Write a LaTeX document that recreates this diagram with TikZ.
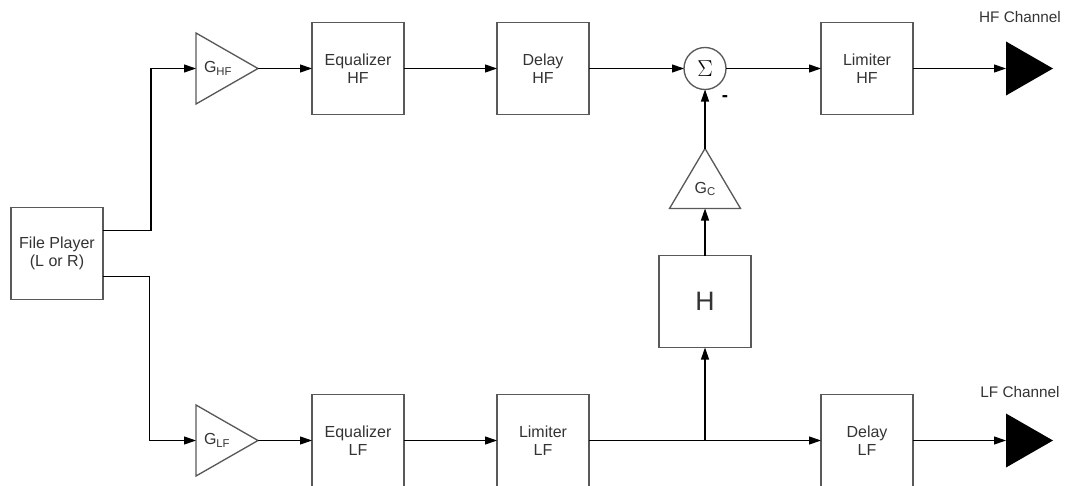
\documentclass[tikz,border=0pt]{standalone}
\usepackage{fontspec}
\setmainfont{Liberation Sans}
\usetikzlibrary{arrows.meta,positioning}
\newcommand{\gsub}[1]{\raisebox{-0.3ex}{\fontsize{8.5}{8.5}\selectfont #1}}

\begin{document}
\begin{tikzpicture}[x = 0.75pt, y = -0.75pt,
		block/.style = {rectangle, draw = black!65, line width = 1pt, outer sep = 0pt, minimum width = 69pt, minimum height = 69pt, align = center, text = black!80, font = \fontsize{12}{13.5}\selectfont},
		gain/.style = {rectangle, outer sep = 0pt, inner xsep = 6pt, inner ysep = 0pt, text width = 34.5pt, minimum height = 53.25pt, align = left, text = black!80, font = \fontsize{12}{13.5}\selectfont},
		gainup/.style = {rectangle, outer sep = 0pt, inner sep = 0pt, minimum width = 53.25pt, minimum height = 45pt, text = black!80, font = \fontsize{12}{13.5}\selectfont},
		sumnode/.style = {circle, draw = black!65, line width = 1pt, outer sep = 0pt, minimum size = 31.5pt, inner sep = 0pt},
		speaker/.style = {rectangle, outer sep = 0pt, inner sep = 0pt, minimum width = 35.25pt, minimum height = 40.5pt},
		triline/.style = {draw = black!65, line width = 1pt},
		signal/.style = {-{Triangle[length = 9pt, width = 6pt]}, line width = 0.8pt},
		chlabel/.style = {text = black!80, font = \fontsize{11.5}{13}\selectfont}]
		\useasboundingbox (0,0) rectangle (1066,485);
		% Source
		\node (player) at (57,253.5) [block] {File Player \\ (L or R)};
		% HF branch
		\node (ghf) at (227,68.5) [gain] {G\gsub{HF}};
		\node (eqhf) [block, right = 40.5pt of ghf] {Equalizer \\ HF};
		\node (dlhf) [block, right = 69.75pt of eqhf] {Delay \\ HF};
		\node (sum) [sumnode, right = 71.25pt of dlhf] {\fontsize{16}{16}\selectfont $\Sigma$};
		\node (lmhf) [block, right = 71.25pt of sum] {Limiter \\ HF};
		\node (outhf) [speaker, right = 69.75pt of lmhf] {};
		\node (hflabel) at (1020,17) [chlabel] {HF Channel};
		% LF branch
		\node (glf) at (227,440.5) [gain] {G\gsub{LF}};
		\node (eqlf) [block, right = 40.5pt of glf] {Equalizer \\ LF};
		\node (lmlf) [block, right = 69.75pt of eqlf] {Limiter \\ LF};
		\node (dllf) [block, right = 174pt of lmlf] {Delay \\ LF};
		\node (outlf) [speaker, right = 69.75pt of dllf] {};
		\node (lflabel) at (1020,392) [chlabel] {LF Channel};
		% Cross path
		\coordinate (tap) at (sum |- lmlf);
		\node (hbox) [block, font = \fontsize{20}{20}\selectfont, above = 69.75pt of tap] {H};
		\node (gc) [gainup, above = 35.25pt of hbox] {\raisebox{-8pt}[\height][\depth]{G\gsub{C}}};
		\node (minus) at (725,99) {\fontsize{14}{14}\selectfont\textbf{-}};
		% Triangles
		\draw [triline] (ghf.north west) -- (ghf.east) -- (ghf.south west) -- cycle;
		\draw [triline] (glf.north west) -- (glf.east) -- (glf.south west) -- cycle;
		\draw [triline] (gc.south west) -- (gc.north) -- (gc.south east) -- cycle;
		\fill (outhf.north west) -- (outhf.east) -- (outhf.south west) -- cycle;
		\fill (outlf.north west) -- (outlf.east) -- (outlf.south west) -- cycle;
		% Signal paths
		\draw [signal] ([yshift = 17pt]player.east) -- ++(36pt,0) |- (ghf.west);
		\draw [signal] ([yshift = -17.5pt]player.east) -- ++(35pt,0) |- (glf.west);
		\draw [signal] (ghf.east) -- (eqhf);
		\draw [signal] (eqhf) -- (dlhf);
		\draw [signal] (dlhf) -- (sum);
		\draw [signal] (sum) -- (lmhf);
		\draw [signal] (lmhf) -- (outhf.west);
		\draw [signal] (glf.east) -- (eqlf);
		\draw [signal] (eqlf) -- (lmlf);
		\draw [signal] (lmlf) -- (dllf);
		\draw [signal] (dllf) -- (outlf.west);
		\draw [signal] (tap) -- (hbox);
		\draw [signal] (hbox) -- (gc.south);
		\draw [signal] (gc.north) -- (sum);
	\end{tikzpicture}
\end{document}
